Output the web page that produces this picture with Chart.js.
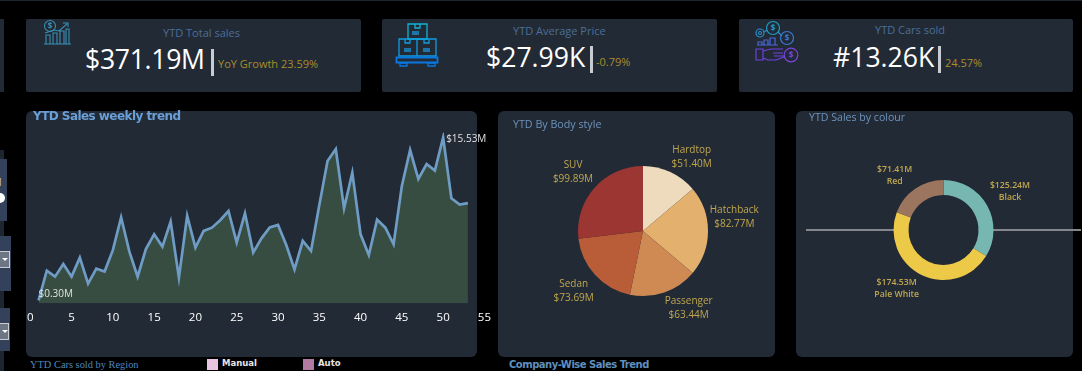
<!DOCTYPE html>
<html>
<head>
<meta charset="utf-8">
<title>YTD Sales Dashboard</title>
<script src="https://cdn.jsdelivr.net/npm/chart.js@4"></script>
<style>
html, body { margin: 0; padding: 0; background: #000; }
body { width: 1082px; height: 371px; position: relative; overflow: hidden; font-family: 'Open Sans', sans-serif; }
.abs { position: absolute; white-space: nowrap; }
.card { position: absolute; background: #222a36; }
.big { border-radius: 6px; top: 111px; height: 246px; }
.kpi { top: 19px; height: 73px; border-radius: 2px; }
.kpiTitle { color: #4c6e96; font-size: 11px; line-height: 14px; }
.kpiValue { color: #fff; font-size: 26.6px; line-height: 32px; }
.kpiBar { width: 3px; height: 27px; background: #c8ccd2; }
.kpiNote { color: #a98e2a; font-size: 11px; line-height: 14px; }
.panel { background: #33425a; }
.drop { position: absolute; left: 0; box-sizing: border-box; height: 17px; background: #6c7685; border: 1px solid #c9ccd1; border-left: 0; }
.drop::after { content: ''; position: absolute; left: 2px; top: 6px; border: 3px solid transparent; border-top-color: #fff; }
canvas { position: absolute; }
svg text { font: bold 8px 'Open Sans'; text-anchor: middle; }
</style>
</head>
<body>
<div class="abs" style="left:0;top:0;width:1082px;height:1px;background:#20262f"></div>

<!-- bordi rimasti a sinistra -->
<div class="card" style="left:0;top:19px;width:4px;height:73px"></div>
<div class="card" style="left:0;top:150px;width:4px;height:221px;background:#1c2530"></div>
<div class="card panel" style="left:0;top:159px;width:7px;height:62px"></div>
<div class="card panel" style="left:0;top:236px;width:11px;height:55px"></div>
<div class="card panel" style="left:0;top:308px;width:10px;height:43px"></div>
<div class="drop" style="top:251px;width:10px"></div>
<div class="drop" style="top:323px;width:9px"></div>
<div class="abs" style="left:-3px;top:175px;color:#d8dade;font-size:10px;line-height:14px">1</div>
<div class="card" style="left:0;top:193px;width:5px;height:10px;border-radius:0 5px 5px 0;background:#fff"></div>

<!-- KPI -->
<div class="card kpi" style="left:26px;width:335px"></div>
<div class="card kpi" style="left:382px;width:335px"></div>
<div class="card kpi" style="left:739px;width:334px"></div>

<svg class="abs" style="left:40px;top:18px" width="34" height="30" fill="none" stroke="#3a8fb5" stroke-width="1.1">
  <circle cx="10" cy="8" r="5.500"/><text x="10" y="11" fill="#3a8fb5" stroke="none">$</text>
  <path d="M4 26h27M6 26v-9h4v9M13 26v-11h4v11M20 26v-13h4v13M26 26v-15h3v15M5 15l9-3 5 1 8-7M23 5l5 0 0 4"/>
</svg>
<svg class="abs" style="left:394px;top:22px" width="46" height="46" fill="none" stroke-width="1.3">
  <path d="M14 2h19v15H14zM21 2v4h5V2" stroke="#10b4d8"/>
  <path d="M5 17h18v17H5zM23 17h19v17H23zM11 17v4h5v-4M30 17v4h5v-4" stroke="#0f9ee0"/>
  <path d="M18 10h7M18 12h7M10 27h7M10 29h7M29 27h7M29 29h7" stroke="#1a8ed0"/>
  <path d="M2.500 35.500h41v5h-41z" stroke="#0a78e0" stroke-width="1.800"/>
  <path d="M6 41h7v3H6zM34 41h7v3h-7z" stroke="#0a78e0"/>
</svg>
<svg class="abs" style="left:754px;top:19px" width="48" height="46" fill="none" stroke-width="1.2">
  <circle cx="19" cy="9" r="6.500" stroke="#1b9fc4"/><text x="19" y="12" fill="#1b9fc4" stroke="none">$</text>
  <circle cx="6" cy="14" r="4" stroke="#2a8cc8"/><circle cx="6" cy="14" r="1.500" stroke="#2a8cc8"/>
  <path d="M10 13l3-2M24 13l4 4" stroke="#2a8cc8"/>
  <circle cx="33" cy="19" r="6.500" stroke="#3a78d0"/><text x="33" y="22" fill="#3a78d0" stroke="none">$</text>
  <path d="M3 26h21M4 26v-3h4v3M10 26v-5h4v5M16 26v-7h5v7" stroke="#4a68d8"/>
  <circle cx="37" cy="36" r="6.800" stroke="#7a45dc"/><text x="37" y="39" fill="#7a45dc" stroke="none">$</text>
  <path d="M2 30h7v11H2zM9 32l8-2h12M9 39l5 2h8l8-3M19 34h10M20 37h10" stroke="#7040e0"/>
</svg>

<div class="abs kpiTitle" style="left:163px;top:26px">YTD Total sales</div>
<div class="abs kpiValue" style="left:85px;top:43px;letter-spacing:-0.3px">$371.19M</div>
<div class="abs kpiBar" style="left:211px;top:49px"></div>
<div class="abs kpiNote" style="left:218px;top:57px">YoY Growth 23.59%</div>

<div class="abs kpiTitle" style="left:513px;top:24px">YTD Average Price</div>
<div class="abs kpiValue" style="left:486px;top:41px">$27.99K</div>
<div class="abs kpiBar" style="left:590px;top:46px"></div>
<div class="abs kpiNote" style="left:596px;top:55px">-0.79%</div>

<div class="abs kpiTitle" style="left:875px;top:23px">YTD Cars sold</div>
<div class="abs kpiValue" style="left:833px;top:41px">#13.26K</div>
<div class="abs kpiBar" style="left:938px;top:46px"></div>
<div class="abs kpiNote" style="left:945px;top:56px">24.57%</div>

<!-- pannelli grafici -->
<div class="card big" style="left:26px;width:451px"></div>
<div class="card big" style="left:498px;width:277px"></div>
<div class="card big" style="left:796px;width:277px"></div>

<canvas id="trendChart" style="left:20px;top:111px;width:478px;height:240px" width="478" height="240"></canvas>
<canvas id="bodyChart" style="left:498px;top:131px;width:290px;height:200px" width="290" height="200"></canvas>
<canvas id="colourChart" style="left:806px;top:130px;width:275px;height:200px" width="275" height="200"></canvas>

<div class="abs" style="left:33px;top:108px;color:#6a9fd8;font:bold 12px 'DejaVu Sans';letter-spacing:-0.55px;line-height:16px">YTD Sales weekly trend</div>
<div class="abs" style="left:513px;top:117px;color:#6d93bb;font-size:10.7px;line-height:14px">YTD By Body style</div>
<div class="abs" style="left:809px;top:110px;color:#6d93bb;font-size:10.6px;line-height:14px">YTD Sales by colour</div>

<div class="abs" style="left:30px;top:358px;color:#4f86bd;font:10.4px 'Liberation Serif';line-height:14px">YTD Cars sold by Region</div>
<div class="abs" style="left:207px;top:359px;width:11px;height:11px;background:#e8c4e0"></div>
<div class="abs" style="left:222px;top:356px;color:#e6e6e6;font:bold 8.5px 'DejaVu Sans';line-height:14px">Manual</div>
<div class="abs" style="left:303px;top:359px;width:11px;height:11px;background:#b07aa1"></div>
<div class="abs" style="left:318px;top:356px;color:#e6e6e6;font:bold 8.5px 'DejaVu Sans';line-height:14px">Auto</div>
<div class="abs" style="left:509px;top:358px;color:#5f8fbd;font:bold 10px 'DejaVu Sans';letter-spacing:-0.5px;line-height:14px">Company-Wise Sales Trend</div>

<script>
// Vendite settimanali (milioni di $)
const weeks = [1,2,3,4,5,6,7,8,9,10,11,12,13,14,15,16,17,18,19,20,21,22,23,24,25,26,27,28,29,30,31,32,33,34,35,36,37,38,39,40,41,42,43,44,45,46,47,48,49,50,51,52,53];
const weeklySales = [0.30,3.08,2.52,3.70,2.52,4.30,1.87,3.27,3.00,5.00,8.07,4.86,2.52,5.10,6.48,5.33,7.66,2.43,8.22,5.23,6.80,7.10,7.80,8.66,5.70,8.44,4.77,6.10,7.13,7.35,5.48,3.20,5.86,4.92,9.20,13.33,14.45,8.90,12.24,6.48,4.55,7.85,7.10,5.55,11.00,14.36,11.65,13.05,12.43,15.53,9.84,9.25,9.40];

// Vendite per carrozzeria
const bodyStyles = ['Hardtop','Hatchback','Passenger','Sedan','SUV'];
const bodySales = [51.40,82.77,63.44,73.69,99.89];
const bodyColors = ['#eedbbd','#e4b06e','#cf8a54','#b85d38','#9c3632'];

// Vendite per colore
const colours = ['Black','Pale White','Red'];
const colourSales = [125.24,174.53,71.41];
const colourColors = ['#76b7b2','#edc948','#9c755f'];

const labelColor = '#c0a74e';

// Etichette esterne, spostamento dal centro del grafico
function outsideLabels(names, values, offsets, nameFirst, font) {
    return {
        id: 'outsideLabels',
        afterDraw(chart) {
            const c = chart.ctx;
            const arc = chart.getDatasetMeta(0).data[0];
            c.save();
            c.font = font;
            c.fillStyle = labelColor;
            c.textAlign = 'center';
            c.textBaseline = 'middle';
            names.forEach((name, i) => {
                const money = '$' + values[i].toFixed(2) + 'M';
                const first = nameFirst ? name : money;
                const second = nameFirst ? money : name;
                const x = arc.x + offsets[i][0];
                const y = arc.y + offsets[i][1];
                c.fillText(first, x, y);
                c.fillText(second, x, y + (nameFirst ? 14 : 12));
            });
            c.restore();
        }
    };
}

const trendLabels = {
    id: 'trendLabels',
    afterDatasetsDraw(chart) {
        const c = chart.ctx;
        const pts = chart.getDatasetMeta(0).data;
        const hi = weeklySales.indexOf(Math.max(...weeklySales));
        const lo = weeklySales.indexOf(Math.min(...weeklySales));
        c.save();
        c.font = "10px 'Open Sans'";
        c.fillStyle = '#e2e2e2';
        c.textBaseline = 'middle';
        c.fillText('$' + weeklySales[hi].toFixed(2) + 'M', pts[hi].x + 3, pts[hi].y + 2);
        c.fillText('$' + weeklySales[lo].toFixed(2) + 'M', pts[lo].x, pts[lo].y - 6);
        c.restore();
    }
};

new Chart(document.getElementById('trendChart'), {
    type: 'line',
    data: {
        datasets: [{
            data: weeks.map((w, i) => ({ x: w, y: weeklySales[i] })),
            borderColor: '#6f9cc4',
            backgroundColor: '#384d42',
            borderWidth: 2.7,
            fill: 'origin',
            tension: 0,
            pointRadius: 0
        }]
    },
    options: {
        responsive: false,
        animation: false,
        layout: { padding: { left: 0, right: 0, top: 21.5, bottom: 19.6 } },
        plugins: { legend: { display: false }, tooltip: { enabled: false } },
        scales: {
            x: {
                type: 'linear',
                min: 0,
                max: 55,
                grid: { display: false, drawTicks: false },
                border: { display: false },
                ticks: { stepSize: 5, color: '#ffffff', font: { family: 'Open Sans', size: 11.5 }, maxRotation: 0, autoSkip: false, padding: 7 }
            },
            y: { display: false, min: 0, max: 16 }
        }
    },
    plugins: [trendLabels]
});

new Chart(document.getElementById('bodyChart'), {
    type: 'pie',
    data: {
        labels: bodyStyles,
        datasets: [{ data: bodySales, backgroundColor: bodyColors, borderWidth: 0 }]
    },
    options: {
        responsive: false,
        animation: false,
        layout: { padding: 35 },
        plugins: { legend: { display: false }, tooltip: { enabled: false } }
    },
    plugins: [outsideLabels(bodyStyles, bodySales, [[48.7,-81],[91.3,-21],[45.7,70],[-69.3,53],[-70,-65.5]], true, "10px 'Open Sans'")]
});

// La linea passa dietro la ciambella, il foro resta color pannello
const colourLine = {
    id: 'colourLine',
    beforeDatasetsDraw(chart) {
        const c = chart.ctx;
        const arc = chart.getDatasetMeta(0).data[0];
        c.save();
        c.strokeStyle = '#84878b';
        c.lineWidth = 2;
        c.beginPath();
        c.moveTo(0, arc.y);
        c.lineTo(chart.width, arc.y);
        c.stroke();
        c.fillStyle = '#222a36';
        c.beginPath();
        c.arc(arc.x, arc.y, arc.innerRadius, 0, Math.PI * 2);
        c.fill();
        c.restore();
    }
};

new Chart(document.getElementById('colourChart'), {
    type: 'doughnut',
    data: {
        labels: colours,
        datasets: [{ data: colourSales, backgroundColor: colourColors, borderWidth: 0 }]
    },
    options: {
        responsive: false,
        animation: false,
        cutout: '70%',
        layout: { padding: 50 },
        plugins: { legend: { display: false }, tooltip: { enabled: false } }
    },
    plugins: [colourLine, outsideLabels(colours, colourSales, [[66.5,-44],[-46.8,52.3],[-48.8,-60.3]], false, "600 8.7px 'Open Sans'")]
});
</script>
</body>
</html>
